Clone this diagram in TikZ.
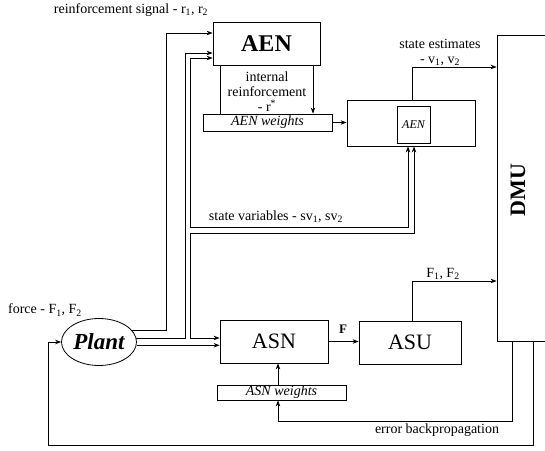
\documentclass[tikz,border=0pt]{standalone}
\usepackage{fontspec}
\setmainfont{Liberation Serif}
\usetikzlibrary{shapes.geometric, arrows.meta, positioning}

\begin{document}
\begin{tikzpicture}[x=1pt, y=-1pt, line width=0.8pt, >={Stealth[length=6pt, width=4.5pt]},
    blok/.style={draw, inner sep=0pt},
    lbl/.style={font=\fontsize{14}{15}\selectfont, inner sep=0pt, align=center},
    wts/.style={draw, inner sep=0pt, font=\itshape\fontsize{14}{15}\selectfont}]
    \useasboundingbox (0,0) rectangle (545,450);
    \clip (0,0) rectangle (545,450);

    % blocks
    \node[blok, minimum width=107pt, minimum height=43pt, font=\bfseries\fontsize{24}{28}\selectfont] (aen) at (266.5,43.5) {AEN};
    \node[wts, minimum width=129pt, minimum height=17pt] (aenw) at (267.5,122.5) {AEN weights};
    \node[blok, minimum width=128pt, minimum height=46pt] (aenbox) at (411,123) {};
    \node[blok, minimum width=33pt, minimum height=37pt, font=\itshape\fontsize{12}{14}\selectfont] (aenin) at (413.5,124.5) {AEN};
    \node[blok, minimum width=100pt, minimum height=306pt] (dmu) at (547,188) {};
    \node[font=\bfseries\fontsize{22}{26}\selectfont, rotate=90] (dmutxt) at (518,190) {DMU};
    \node[draw, ellipse, minimum width=75pt, minimum height=47pt, inner sep=0pt, font=\bfseries\itshape\fontsize{23}{27}\selectfont] (plant) at (99,342) {Plant};
    \node[blok, minimum width=108pt, minimum height=43pt, font=\fontsize{22}{26}\selectfont] (asn) at (274,341.5) {ASN};
    \node[wts, minimum width=129pt, minimum height=15pt] (asnw) at (281.5,392.5) {ASN weights};
    \node[blok, minimum width=102pt, minimum height=43pt, font=\fontsize{22}{26}\selectfont] (asu) at (410,342.5) {ASU};

    % labels
    \node[lbl] (rsig) at (131,10) {reinforcement signal - r\textsubscript{1}, r\textsubscript{2}};
    \node[lbl] (intr) at (267,92) {internal\\reinforcement\\- r\textsuperscript{*}};
    \node[lbl] (selbl) at (440,52) {state estimates\\- v\textsubscript{1}, v\textsubscript{2}};
    \node[lbl] (svlbl) at (276,217) {state variables - sv\textsubscript{1}, sv\textsubscript{2}};
    \node[lbl] (frc) at (45,310) {force - F\textsubscript{1}, F\textsubscript{2}};
    \node[lbl, font=\bfseries\fontsize{13}{15}\selectfont] (flbl) at (343,329) {F};
    \node[lbl] (f12) at (443,274) {F\textsubscript{1}, F\textsubscript{2}};
    \node[lbl] (ebp) at (437,430) {error backpropagation};

    % reinforcement signal
    \coordinate (rs) at (166,33);
    \draw[->] (plant.20) -| (rs) -- (rs -| aen.west);

    % state variables, two-line bus
    \coordinate (pa) at (185,53);
    \draw[->] (plant.6) -| (pa) -- (pa -| aen.west);
    \coordinate (pb) at (190,58);
    \coordinate (pc) at (190,227);
    \coordinate (pd) at (408,227);
    \draw[<->] (pb -| aen.west) -- (pb) -- (pc) -- (pd) -- (pd |- aenbox.south);
    \coordinate (pe) at (190,233);
    \coordinate (pf) at (414,233);
    \coordinate (pg) at (190,338);
    \draw[<->] (pf |- aenbox.south) -- (pf) -- (pe) -- (pg) -- (pg -| asn.west);
    \draw[->] (plant.-5) -- (plant.-5 -| asn.west);

    % AEN side
    \coordinate (ir) at (220,0);
    \coordinate (ia) at (313,0);
    \draw (aen.south -| ir) -- (aenw.north -| ir);
    \draw[->] (aen.south -| ia) -- (aenw.north -| ia);
    \draw[->] (aenw.east) -- (aenw.east -| aenbox.west);
    \coordinate (se) at (412,67);
    \draw[->] (se |- aenbox.north) -- (se) -- (se -| dmu.west);

    % ASN side
    \draw[->] (asn.east) -- (asn.east -| asu.west);
    \coordinate (fo) at (412,281);
    \draw[->] (asu.north -| fo) -- (fo) -- (fo -| dmu.west);
    \coordinate (wx) at (278,0);
    \draw[->] (asnw.north -| wx) -- (asn.south -| wx);
    \coordinate (eb) at (512,421);
    \coordinate (ec) at (278,421);
    \draw[->] (dmu.south -| eb) -- (eb) -- (ec) -- (ec |- asnw.south);
    \coordinate (fb) at (533,445);
    \coordinate (fc) at (48,445);
    \draw[->] (dmu.south -| fb) -- (fb) -- (fc) -- (fc |- plant.west) -- (plant.west);
\end{tikzpicture}
\end{document}
